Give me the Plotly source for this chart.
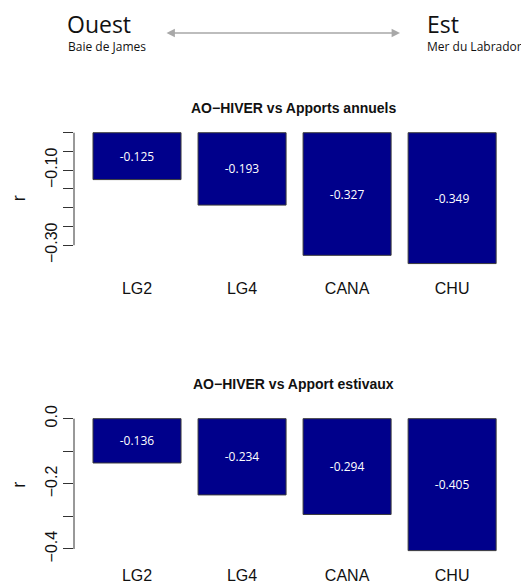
import plotly.graph_objects as go

# ---- data ----
stations = ["LG2", "LG4", "CANA", "CHU"]
r_annuels = [-0.125, -0.193, -0.327, -0.349]
r_estivaux = [-0.136, -0.234, -0.294, -0.405]
title_annuels = "AO−HIVER vs Apports annuels"
title_estivaux = "AO−HIVER vs Apport estivaux"
ticks_annuels = [0, -0.05, -0.10, -0.15, -0.20, -0.25, -0.30]
ticktext_annuels = ["", "", "−0.10", "", "", "", "−0.30"]
ticks_estivaux = [0, -0.1, -0.2, -0.3, -0.4]
ticktext_estivaux = ["0.0", "", "−0.2", "", "−0.4"]

# page body has an 8px default margin; figure sized to fit the window
OFF = 8
W, H = 529 - OFF, 586 - OFF
def py(p):  # window pixel from top -> paper y
    return 1 - (p - OFF) / H
def px(p):
    return (p - OFF) / W

BAR = "#00008B"
EDGE = "#3a3a3a"
FONT = "Liberation Sans"
HUM = "Open Sans"

fig = go.Figure()

xdom = [px(74), px(512)]
xrange_ = [-0.6, 3.57]

panels = [
    (r_annuels, ticks_annuels, ticktext_annuels, title_annuels, [py(268.8), py(127.5)], "x", "y", 108),
    (r_estivaux, ticks_estivaux, ticktext_estivaux, title_estivaux, [py(555.9), py(413.4)], "x2", "y2", 384),
]

annotations = []
shapes = []
for i, (vals, tv, tt, title, ydom, xa, ya, ty) in enumerate(panels):
    fig.add_trace(go.Bar(
        x=stations, y=vals, xaxis=xa, yaxis=ya,
        marker=dict(color=BAR, line=dict(color=EDGE, width=1)),
        text=[f"{v:.3f}" for v in vals], textposition="inside",
        insidetextanchor="middle",
        textfont=dict(color="white", size=12, family=HUM),
        showlegend=False, hoverinfo="skip",
    ))
    lo = min(vals)
    yr = [lo * 1.04, -lo * 0.04]
    sfx = "" if i == 0 else "2"
    fig.update_layout(**{
        f"xaxis{sfx}": dict(domain=xdom, range=xrange_, anchor=ya, showline=False,
                            showgrid=False, zeroline=False, ticks="outside", ticklen=5,
                            tickcolor="rgba(0,0,0,0)", automargin=False,
                            tickfont=dict(family=FONT, size=16, color="#111")),
        f"yaxis{sfx}": dict(domain=ydom, range=yr, anchor=xa, showline=False,
                            showgrid=False, zeroline=False, tickvals=tv, ticktext=tt,
                            ticks="outside", ticklen=10, tickcolor="#333", tickwidth=1,
                            tickangle=-90, automargin=False,
                            tickfont=dict(family=FONT, size=16, color="#111"),
                            title=dict(text="r", font=dict(family=FONT, size=18, color="#111"),
                                       standoff=12)),
    })
    # R-style axis line spanning only the tick range
    shapes.append(dict(type="line", xref="paper", yref=ya, x0=xdom[0], x1=xdom[0],
                       y0=max(tv), y1=min(tv), line=dict(color="#333", width=1)))
    annotations.append(dict(text=f"<b>{title}</b>", xref="paper", yref="paper",
                            x=(xdom[0] + xdom[1]) / 2, y=py(ty), showarrow=False,
                            font=dict(family=FONT, size=14, color="#111"),
                            xanchor="center", yanchor="middle"))

# header
annotations += [
    dict(text="Ouest", xref="paper", yref="paper", x=px(65), y=py(24), xanchor="left",
         yanchor="middle", showarrow=False, font=dict(family=HUM, size=23, color="#111")),
    dict(text="Baie de James", xref="paper", yref="paper", x=px(66), y=py(46), xanchor="left",
         yanchor="middle", showarrow=False, font=dict(family=HUM, size=12, color="#111")),
    dict(text="Est", xref="paper", yref="paper", x=px(425), y=py(24), xanchor="left",
         yanchor="middle", showarrow=False, font=dict(family=HUM, size=23, color="#111")),
    dict(text="Mer du Labrador", xref="paper", yref="paper", x=px(425), y=py(46), xanchor="left",
         yanchor="middle", showarrow=False, font=dict(family=HUM, size=12, color="#111")),
    dict(text="", xref="paper", yref="paper", x=px(400), y=py(33), axref="pixel", ayref="pixel",
         ax=-235, ay=0, showarrow=True, arrowside="end+start", arrowhead=2, arrowsize=1.2,
         arrowwidth=1.4, arrowcolor="#a8a8a8"),
]

fig.update_layout(
    width=W, height=H, margin=dict(l=0, r=0, t=0, b=0),
    paper_bgcolor="white", plot_bgcolor="white",
    bargap=0.162, annotations=annotations, shapes=shapes,
    uniformtext=dict(minsize=8, mode="show"),
)

fig.write_html("out.html")
